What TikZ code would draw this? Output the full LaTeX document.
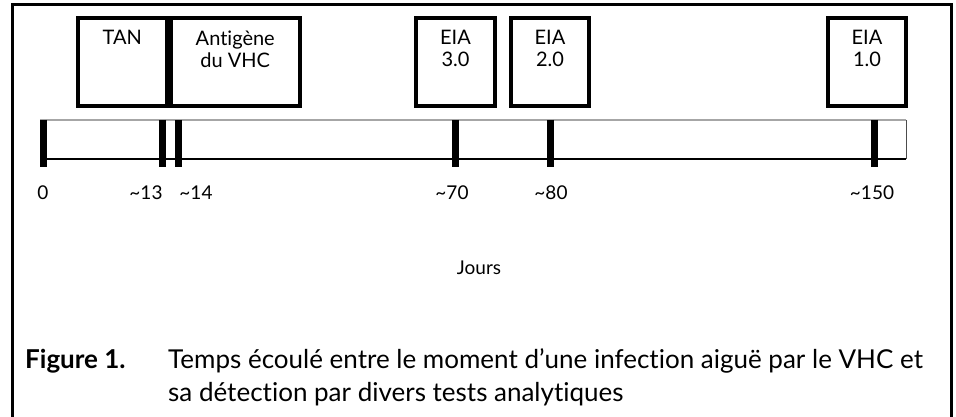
\documentclass[tikz,border=0pt]{standalone}
\usepackage{fontspec}
\setmainfont[Ligatures=NoCommon]{Lato}
\usetikzlibrary{positioning}

\begin{document}
\begin{tikzpicture}[x=1pt,y=-1pt,
	testbox/.style={draw,line width=4pt,minimum height=88pt,inner sep=0pt},
	boxtext/.style={font=\fontsize{20}{22}\selectfont,align=center,anchor=north},
	tickmark/.style={line width=7pt},
	ticklabel/.style={font=\fontsize{19}{21}\selectfont,anchor=base}]
	\useasboundingbox (0,0) rectangle (956,417);
	% outer frame, open at the bottom
	\draw[line width=3pt] (12,417) -- (12,5) -- (951,5) -- (951,417);
	
	% test boxes
	\node[testbox,minimum width=88.5pt] (tan) at (122.25,62) {};
	\node[testbox,minimum width=129.5pt] (agn) at (235.25,62) {};
	\node[testbox,minimum width=79pt] (eia3) at (455.5,62) {};
	\node[testbox,minimum width=78pt] (eia2) at (550,62) {};
	\node[testbox,minimum width=78pt] (eia1) at (867,62) {};
	
	\node[boxtext] at ([yshift=-11pt]tan.north) {TAN};
	\node[boxtext] at ([yshift=-11pt]agn.north) {Antigène\\du VHC};
	\node[boxtext] at ([yshift=-11pt]eia3.north) {EIA\\3.0};
	\node[boxtext] at ([yshift=-11pt]eia2.north) {EIA\\2.0};
	\node[boxtext] at ([yshift=-11pt]eia1.north) {EIA\\1.0};
	
	% time line
	\coordinate (lt) at (40,120);
	\coordinate (rt) at (906,120);
	\coordinate (lb) at (40,159);
	\coordinate (rb) at (906,159);
	\draw[gray!70,line width=1.5pt] (lt) -- (rt);
	\draw[line width=1.2pt] (lb) -- (rb);
	\draw[gray!60!black,line width=1pt] (rt) -- (rb);
	
	\foreach \x/\n/\lab/\lx in {43/d0/0/43, 162/d13/\textasciitilde13/146, 178/d14/\textasciitilde14/196,
		455/d70/\textasciitilde70/452, 550/d80/\textasciitilde80/551, 874/d150/\textasciitilde150/872}{
		\coordinate (\n) at (\x,120);
		\draw[tickmark] (\n) -- ++(0,47);
		\node[ticklabel] (l\n) at (\lx,200) {\lab};
	}
	
	\node[ticklabel] (jours) at (479,274) {Jours};
	
	% caption
	\node[font=\bfseries\fontsize{26}{33}\selectfont,anchor=base west,inner sep=0pt] (fig) at (25,368) {Figure 1.};
	\node[font=\fontsize{26}{33}\selectfont,anchor=base west,align=left,inner sep=0pt] (cap) at (168,401)
		{Temps écoulé entre le moment d’une infection aiguë par le VHC et\\sa détection par divers tests analytiques};
\end{tikzpicture}
\end{document}
